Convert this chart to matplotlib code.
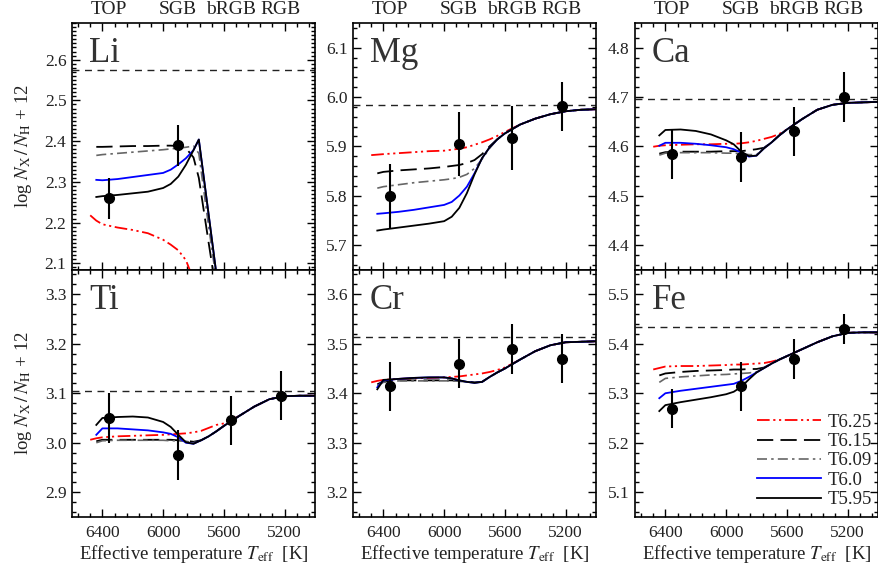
import numpy as np
import matplotlib
matplotlib.use("Agg")
import matplotlib.pyplot as plt
from matplotlib.ticker import MultipleLocator

plt.rcParams['font.family'] = ['Liberation Serif', 'DejaVu Serif']
plt.rcParams['mathtext.fontset'] = 'stix'

nan = np.nan

# ---------------- data ----------------
MODEL_NAMES = ['T6.25', 'T6.15', 'T6.09', 'T6.0', 'T5.95']

TEFF_GRID = [6480, 6440, 6400, 6300, 6200, 6100, 6000, 5950, 5900, 5850, 5800,
             5750, 5700, 5650, 5600, 5500, 5400, 5300, 5200, 5100, 5000]
TEFF_LI = [6480, 6440, 6400, 6300, 6200, 6100, 6000, 5950, 5900, 5850, 5800,
           5765, 5700, 5650, 5600]

OBS_TEFF = [6355, 5903, 5555, 5225]
STAGE_LABELS = ['TOP', 'SGB', 'bRGB', 'RGB']

# Li
LI_T625 = [2.218, 2.205, 2.196, 2.188, 2.182, 2.174, 2.158, 2.146, 2.132, 2.108, 2.06, 2.00, nan, nan, nan]
LI_T615 = [nan, 2.386, 2.386, 2.387, 2.388, 2.388, 2.389, 2.389, 2.388, 2.383, 2.360, 2.310, 2.150, 2.030, nan]
LI_T609 = [nan, 2.365, 2.367, 2.370, 2.373, 2.376, 2.379, 2.381, 2.383, 2.385, 2.388, 2.370, 2.190, 2.060, nan]
LI_T60 = [nan, 2.305, 2.304, 2.307, 2.312, 2.317, 2.322, 2.330, 2.343, 2.358, 2.378, 2.404, 2.219, 2.076, 1.95]
LI_T595 = [nan, 2.263, 2.265, 2.268, 2.272, 2.276, 2.285, 2.295, 2.313, 2.342, 2.378, 2.404, 2.219, 2.076, 1.95]
LI_OBS = [2.26, 2.39]
LI_ERR = [0.05, 0.05]
LI_SUN = 2.575

# Mg
MG_T625 = [5.882, 5.883, 5.884, 5.886, 5.888, 5.890, 5.891, 5.893, 5.895, 5.898, 5.903, 5.908, 5.914, 5.921, 5.929, 5.944, 5.956, 5.965, 5.971, 5.974, 5.975]
MG_T615 = [nan, 5.845, 5.848, 5.851, 5.853, 5.855, 5.858, 5.860, 5.862, 5.866, 5.872, 5.884, 5.900, 5.914, 5.926, 5.944, 5.956, 5.965, 5.971, 5.974, 5.975]
MG_T609 = [nan, 5.815, 5.818, 5.822, 5.826, 5.829, 5.832, 5.834, 5.837, 5.843, 5.855, 5.874, 5.896, 5.914, 5.926, 5.944, 5.956, 5.965, 5.971, 5.974, 5.975]
MG_T60 = [nan, 5.763, 5.764, 5.767, 5.771, 5.776, 5.781, 5.787, 5.800, 5.818, 5.845, 5.876, 5.898, 5.914, 5.926, 5.944, 5.956, 5.965, 5.971, 5.974, 5.975]
MG_T595 = [nan, 5.729, 5.731, 5.735, 5.739, 5.743, 5.748, 5.757, 5.775, 5.805, 5.843, 5.876, 5.898, 5.914, 5.926, 5.944, 5.956, 5.965, 5.971, 5.974, 5.975]
MG_OBS = [5.800, 5.905, 5.916, 5.981]
MG_ERR = [0.065, 0.065, 0.065, 0.05]
MG_SUN = 5.983

# Ca
CA_T625 = [4.599, 4.601, 4.602, 4.603, 4.604, 4.604, 4.605, 4.605, 4.606, 4.608, 4.611, 4.615, 4.619, 4.625, 4.634, 4.655, 4.674, 4.684, 4.688, 4.689, 4.690]
CA_T615 = [nan, 4.585, 4.588, 4.589, 4.589, 4.589, 4.590, 4.590, 4.590, 4.592, 4.594, 4.597, 4.608, 4.622, 4.634, 4.655, 4.674, 4.684, 4.688, 4.689, 4.690]
CA_T609 = [nan, 4.582, 4.586, 4.587, 4.587, 4.587, 4.586, 4.586, 4.585, 4.583, 4.583, 4.596, 4.608, 4.622, 4.634, 4.655, 4.674, 4.684, 4.688, 4.689, 4.690]
CA_T60 = [nan, 4.601, 4.607, 4.607, 4.605, 4.602, 4.598, 4.594, 4.587, 4.579, 4.581, 4.596, 4.608, 4.622, 4.634, 4.655, 4.674, 4.684, 4.688, 4.689, 4.690]
CA_T595 = [nan, 4.622, 4.633, 4.634, 4.631, 4.624, 4.612, 4.604, 4.589, 4.580, 4.581, 4.596, 4.608, 4.622, 4.634, 4.655, 4.674, 4.684, 4.688, 4.689, 4.690]
CA_OBS = [4.584, 4.578, 4.630, 4.700]
CA_ERR = [0.05, 0.05, 0.05, 0.05]
CA_SUN = 4.695

# Ti
TI_T625 = [3.006, 3.009, 3.011, 3.013, 3.014, 3.015, 3.016, 3.017, 3.018, 3.019, 3.021, 3.024, 3.030, 3.036, 3.039, 3.054, 3.073, 3.088, 3.094, 3.095, 3.095]
TI_T615 = [nan, 3.003, 3.006, 3.006, 3.006, 3.006, 3.006, 3.006, 3.005, 3.004, 3.002, 3.005, 3.013, 3.023, 3.034, 3.054, 3.073, 3.088, 3.094, 3.095, 3.095]
TI_T609 = [nan, 3.000, 3.004, 3.005, 3.005, 3.005, 3.005, 3.004, 3.004, 3.003, 3.000, 3.005, 3.013, 3.023, 3.034, 3.054, 3.073, 3.088, 3.094, 3.095, 3.095]
TI_T60 = [nan, 3.016, 3.029, 3.029, 3.027, 3.025, 3.021, 3.018, 3.011, 3.000, 2.998, 3.005, 3.013, 3.023, 3.034, 3.054, 3.073, 3.088, 3.094, 3.095, 3.095]
TI_T595 = [nan, 3.036, 3.050, 3.052, 3.053, 3.051, 3.042, 3.032, 3.016, 3.001, 2.998, 3.005, 3.013, 3.023, 3.034, 3.054, 3.073, 3.088, 3.094, 3.095, 3.095]
TI_OBS = [3.050, 2.975, 3.045, 3.095]
TI_ERR = [0.05, 0.05, 0.05, 0.05]
TI_SUN = 3.104

# Cr
CR_T625 = [3.422, 3.425, 3.427, 3.429, 3.430, 3.431, 3.432, 3.433, 3.434, 3.436, 3.438, 3.440, 3.443, 3.447, 3.452, 3.468, 3.485, 3.497, 3.503, 3.504, 3.505]
CR_T615 = [nan, 3.418, 3.424, 3.426, 3.426, 3.426, 3.426, 3.426, 3.425, 3.424, 3.422, 3.423, 3.433, 3.442, 3.450, 3.468, 3.485, 3.497, 3.503, 3.504, 3.505]
CR_T609 = [nan, 3.415, 3.422, 3.425, 3.425, 3.425, 3.425, 3.425, 3.424, 3.423, 3.422, 3.423, 3.433, 3.442, 3.450, 3.468, 3.485, 3.497, 3.503, 3.504, 3.505]
CR_T60 = [nan, 3.412, 3.426, 3.429, 3.431, 3.432, 3.432, 3.430, 3.426, 3.423, 3.421, 3.423, 3.433, 3.442, 3.450, 3.468, 3.485, 3.497, 3.503, 3.504, 3.505]
CR_T595 = [nan, 3.408, 3.427, 3.429, 3.431, 3.432, 3.432, 3.430, 3.426, 3.423, 3.421, 3.423, 3.433, 3.442, 3.450, 3.468, 3.485, 3.497, 3.503, 3.504, 3.505]
CR_OBS = [3.414, 3.460, 3.489, 3.470]
CR_ERR = [0.05, 0.05, 0.05, 0.05]
CR_SUN = 3.513

# Fe
FE_T625 = [5.348, 5.351, 5.354, 5.355, 5.355, 5.356, 5.357, 5.358, 5.358, 5.359, 5.360, 5.361, 5.364, 5.368, 5.375, 5.389, 5.403, 5.415, 5.422, 5.423, 5.423]
FE_T615 = [nan, 5.336, 5.340, 5.343, 5.345, 5.346, 5.347, 5.348, 5.348, 5.349, 5.349, 5.352, 5.360, 5.368, 5.375, 5.389, 5.403, 5.415, 5.422, 5.423, 5.423]
FE_T609 = [nan, 5.322, 5.330, 5.333, 5.335, 5.337, 5.338, 5.339, 5.340, 5.341, 5.343, 5.351, 5.360, 5.368, 5.375, 5.389, 5.403, 5.415, 5.422, 5.423, 5.423]
FE_T60 = [nan, 5.290, 5.300, 5.305, 5.309, 5.313, 5.317, 5.319, 5.325, 5.333, 5.342, 5.351, 5.360, 5.368, 5.375, 5.389, 5.403, 5.415, 5.422, 5.423, 5.423]
FE_T595 = [nan, 5.264, 5.276, 5.282, 5.287, 5.292, 5.298, 5.303, 5.313, 5.328, 5.342, 5.351, 5.360, 5.368, 5.375, 5.389, 5.403, 5.415, 5.422, 5.423, 5.423]
FE_OBS = [5.269, 5.314, 5.369, 5.430]
FE_ERR = [0.04, 0.05, 0.04, 0.03]
FE_SUN = 5.433

# ---------------- styles ----------------
STYLES = [
    dict(color='#ff0000', lw=1.3, ls=(0, (7, 2, 1.2, 2, 1.2, 2))),
    dict(color='black', lw=1.3, ls=(0, (9, 4))),
    dict(color='#666666', lw=1.2, ls=(0, (6, 2.5, 1.5, 2.5))),
    dict(color='#0000ff', lw=1.3, ls='-'),
    dict(color='black', lw=1.3, ls='-'),
]

panels = [
    dict(name='Li', grid=TEFF_LI, models=[LI_T625, LI_T615, LI_T609, LI_T60, LI_T595],
         obs=LI_OBS, err=LI_ERR, sun=LI_SUN, ylim=(2.085, 2.69), ytick=0.1, yminor=0.01),
    dict(name='Mg', grid=TEFF_GRID, models=[MG_T625, MG_T615, MG_T609, MG_T60, MG_T595],
         obs=MG_OBS, err=MG_ERR, sun=MG_SUN, ylim=(5.65, 6.15), ytick=0.1, yminor=0.02),
    dict(name='Ca', grid=TEFF_GRID, models=[CA_T625, CA_T615, CA_T609, CA_T60, CA_T595],
         obs=CA_OBS, err=CA_ERR, sun=CA_SUN, ylim=(4.35, 4.85), ytick=0.1, yminor=0.02),
    dict(name='Ti', grid=TEFF_GRID, models=[TI_T625, TI_T615, TI_T609, TI_T60, TI_T595],
         obs=TI_OBS, err=TI_ERR, sun=TI_SUN, ylim=(2.85, 3.35), ytick=0.1, yminor=0.02),
    dict(name='Cr', grid=TEFF_GRID, models=[CR_T625, CR_T615, CR_T609, CR_T60, CR_T595],
         obs=CR_OBS, err=CR_ERR, sun=CR_SUN, ylim=(3.15, 3.65), ytick=0.1, yminor=0.02),
    dict(name='Fe', grid=TEFF_GRID, models=[FE_T625, FE_T615, FE_T609, FE_T60, FE_T595],
         obs=FE_OBS, err=FE_ERR, sun=FE_SUN, ylim=(5.05, 5.55), ytick=0.1, yminor=0.02),
]

W, H = 879, 569
fig = plt.figure(figsize=(W / 100, H / 100), dpi=100)

col_left = [72, 353, 635]
ax_w = 243
row_top = [23, 269.5]
row_bot = [269.5, 517]

TXT = '#222222'

for i, p in enumerate(panels):
    r, c = divmod(i, 3)
    x0 = col_left[c] / W
    y0 = 1 - row_bot[r] / H
    h = (row_bot[r] - row_top[r]) / H
    ax = fig.add_axes([x0, y0, ax_w / W, h])

    ax.axhline(p['sun'], color='#222222', lw=1.0, ls=(0, (5, 4)), zorder=1)
    for vals, st, nm in zip(p['models'], STYLES, MODEL_NAMES):
        ax.plot(p['grid'], vals, color=st['color'], lw=st['lw'], ls=st['ls'],
                label=nm, zorder=2)
    nobs = len(p['obs'])
    ax.errorbar(OBS_TEFF[:nobs], p['obs'], yerr=p['err'], fmt='o', color='black',
                ms=7, elinewidth=1.5, capsize=0, zorder=5)

    ax.set_xlim(6600, 5000)
    ax.set_ylim(*p['ylim'])
    ax.xaxis.set_major_locator(MultipleLocator(400))
    ax.xaxis.set_minor_locator(MultipleLocator(80))
    ax.yaxis.set_major_locator(MultipleLocator(p['ytick']))
    ax.yaxis.set_minor_locator(MultipleLocator(p['yminor']))
    ax.yaxis.set_major_formatter(matplotlib.ticker.FormatStrFormatter('%.1f'))
    ax.tick_params(which='both', direction='in', top=True, right=True,
                   labelsize=12.5, labelcolor=TXT, width=1.0)
    ax.tick_params(which='major', length=6)
    ax.tick_params(which='minor', length=3)
    ax.tick_params(axis='y', pad=4)
    ax.tick_params(axis='x', pad=6)
    for s in ax.spines.values():
        s.set_linewidth(1.2)

    ax.text(0.07, 0.84, p['name'], transform=ax.transAxes, fontsize=25,
            color='#333333', va='baseline', ha='left')

    if r == 0:
        ax.tick_params(labelbottom=False)
        for lab, t in zip(STAGE_LABELS, OBS_TEFF):
            ax.text(t, 1.022, lab, transform=ax.get_xaxis_transform(),
                    ha='center', va='bottom', fontsize=14, color=TXT)
    else:
        ax.set_xlabel(r'Effective temperature $T_{\rm eff}$  [K]', fontsize=13.5,
                      color=TXT, labelpad=1)
    if c == 0:
        ax.set_ylabel(r'log $N_{\rm X}\,/\,N_{\rm H}$ + 12', fontsize=13.5,
                      color=TXT, labelpad=8)
    if i == 5:
        ax.legend(loc='lower right', bbox_to_anchor=(1.02, -0.01), frameon=False,
                  fontsize=13.5, handlelength=3.4, handletextpad=0.35,
                  labelspacing=0.12, borderaxespad=0.2)
        for t in ax.get_legend().get_texts():
            t.set_color(TXT)

fig.savefig('out.png', dpi=100)
